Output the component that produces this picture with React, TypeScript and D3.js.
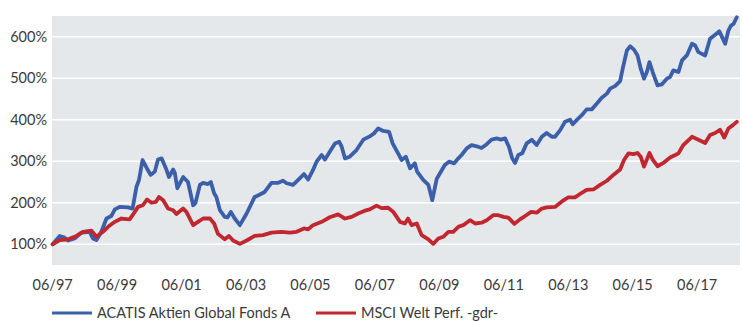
import React from "react";
import * as d3 from "d3";

// Decimal-year dates and values (%)
const acatisDates = [1997.42,1997.64,1997.79,1997.90,1998.10,1998.31,1998.57,1998.67,1998.78,1998.93,1999.09,1999.24,1999.35,1999.50,1999.76,1999.90,2000.02,2000.10,2000.21,2000.33,2000.46,2000.59,2000.69,2000.80,2000.95,2001.03,2001.16,2001.21,2001.29,2001.47,2001.62,2001.78,2001.85,2001.99,2002.09,2002.24,2002.33,2002.43,2002.50,2002.61,2002.76,2002.85,2002.95,2003.07,2003.23,2003.44,2003.69,2003.85,2004.00,2004.21,2004.42,2004.57,2004.68,2004.88,2005.04,2005.22,2005.35,2005.50,2005.61,2005.77,2005.87,2006.02,2006.18,2006.31,2006.39,2006.49,2006.64,2006.85,2007.06,2007.26,2007.39,2007.52,2007.68,2007.86,2007.97,2008.14,2008.25,2008.38,2008.51,2008.66,2008.73,2008.92,2009.08,2009.20,2009.34,2009.44,2009.59,2009.72,2009.88,2010.01,2010.11,2010.27,2010.42,2010.58,2010.73,2010.89,2011.04,2011.20,2011.33,2011.46,2011.58,2011.68,2011.77,2011.87,2011.99,2012.13,2012.29,2012.44,2012.60,2012.75,2012.91,2013.01,2013.17,2013.32,2013.48,2013.56,2013.68,2013.84,2013.99,2014.15,2014.31,2014.46,2014.62,2014.72,2014.87,2015.03,2015.11,2015.24,2015.34,2015.46,2015.57,2015.67,2015.77,2015.86,2015.94,2016.04,2016.19,2016.32,2016.48,2016.58,2016.68,2016.84,2016.95,2017.10,2017.26,2017.36,2017.46,2017.67,2017.82,2017.95,2018.11,2018.22,2018.29,2018.39,2018.47,2018.55,2018.65];
const acatisValues = [100,120,116,109,114,128,130,114,110,130,162,168,184,190,189,186,238,255,303,285,267,275,304,307,280,262,280,272,235,262,250,194,199,243,248,245,250,223,214,182,166,165,178,162,146,174,214,220,226,248,248,253,247,243,255,269,256,279,299,315,304,323,343,347,335,307,311,327,352,360,367,379,373,371,343,319,303,311,283,295,275,255,243,206,258,271,291,299,295,307,315,331,339,336,332,341,352,355,352,355,335,307,296,315,319,343,352,339,359,368,359,359,375,395,400,389,399,411,425,425,439,453,463,475,481,493,523,567,577,569,555,523,499,515,539,515,483,485,499,503,519,515,543,555,583,579,563,555,595,603,613,595,583,615,627,631,647];

const msciDates = [1997.42,1997.64,1997.90,1998.16,1998.36,1998.62,1998.78,1998.98,1999.14,1999.35,1999.55,1999.81,1999.97,2000.07,2000.22,2000.35,2000.49,2000.62,2000.72,2000.85,2001.00,2001.16,2001.26,2001.47,2001.57,2001.78,2001.93,2002.09,2002.30,2002.43,2002.55,2002.76,2002.89,2003.02,2003.23,2003.44,2003.69,2003.95,2004.21,2004.52,2004.78,2004.99,2005.22,2005.35,2005.50,2005.77,2006.02,2006.28,2006.49,2006.70,2006.90,2007.11,2007.26,2007.47,2007.63,2007.83,2007.99,2008.20,2008.35,2008.45,2008.56,2008.72,2008.87,2009.08,2009.23,2009.39,2009.54,2009.70,2009.85,2010.01,2010.16,2010.37,2010.53,2010.73,2010.89,2011.09,2011.25,2011.41,2011.56,2011.75,2011.92,2012.08,2012.27,2012.44,2012.60,2012.75,2013.01,2013.27,2013.42,2013.63,2013.84,2013.99,2014.20,2014.41,2014.62,2014.82,2015.03,2015.15,2015.29,2015.44,2015.57,2015.67,2015.77,2015.94,2016.04,2016.19,2016.37,2016.58,2016.74,2016.84,2016.99,2017.26,2017.46,2017.67,2017.82,2017.98,2018.13,2018.26,2018.39,2018.53,2018.65];
const msciValues = [100,110,112,120,130,133,118,130,142,154,162,160,178,190,194,208,200,202,214,206,186,182,173,186,178,146,154,162,162,150,125,112,120,109,101,109,120,122,128,130,128,130,138,136,146,154,165,172,162,166,174,181,184,193,187,188,178,154,150,162,146,150,122,112,101,114,118,130,130,142,146,158,150,152,158,170,170,166,164,149,160,168,178,176,186,189,190,206,213,213,224,231,232,243,253,267,280,303,319,317,320,311,287,320,304,288,296,309,315,319,339,359,352,344,363,368,376,357,379,387,395];

const yTicks = [100, 200, 300, 400, 500, 600];
const xTickYears = [1997, 1999, 2001, 2003, 2005, 2007, 2009, 2011, 2013, 2015, 2017];
const seriesNames = ["ACATIS Aktien Global Fonds A", "MSCI Welt Perf. -gdr-"];
const seriesColors = ["#3b5fa9", "#c0272f"];

export default function App() {
  const W = 742, H = 322;
  const left = 52, right = 740, top = 16, bottom = 265;
  const x = d3.scaleLinear().domain([1997.4, 2018.75]).range([left, right]);
  const y = d3.scaleLinear().domain([50, 650]).range([bottom, top]);
  const line = d3.line<[number, number]>().x(d => x(d[0])).y(d => y(d[1])).curve(d3.curveLinear);
  const series = [
    acatisDates.map((t, i) => [t, acatisValues[i]] as [number, number]),
    msciDates.map((t, i) => [t, msciValues[i]] as [number, number]),
  ];
  const font = "Lato, 'Open Sans', sans-serif";
  const textColor = "#3a3a3a";
  const legendX = [52, 316];
  return (
    <svg width={W} height={H} style={{ position: "absolute", left: 0, top: 0, fontFamily: font }}>
      <rect x={0} y={0} width={W} height={H} fill="#ffffff" />
      <rect x={left} y={top} width={right - left} height={bottom - top} fill="#e5e8eb" />
      {yTicks.map(v => (
        <g key={v}>
          <line x1={left} x2={right} y1={y(v)} y2={y(v)} stroke="#ffffff" strokeWidth={1.5} />
          <text x={47} y={y(v)} dy="0.36em" textAnchor="end" fontSize={14.5} fill={textColor}>{v}%</text>
        </g>
      ))}
      {xTickYears.map(yr => (
        <text key={yr} x={x(yr + 0.42)} y={290} textAnchor="middle" fontSize={14.5} fill={textColor}>
          06/{String(yr % 100).padStart(2, "0")}
        </text>
      ))}
      {series.map((s, i) => (
        <path key={i} d={line(s) || ""} fill="none" stroke={seriesColors[i]} strokeWidth={3.8} strokeLinejoin="round" strokeLinecap="round" />
      ))}
      {seriesNames.map((n, i) => (
        <g key={n}>
          <line x1={legendX[i]} x2={legendX[i] + 40} y1={313} y2={313} stroke={seriesColors[i]} strokeWidth={3} />
          <text x={legendX[i] + 45} y={318} fontSize={14.5} fill={textColor}>{n}</text>
        </g>
      ))}
    </svg>
  );
}
